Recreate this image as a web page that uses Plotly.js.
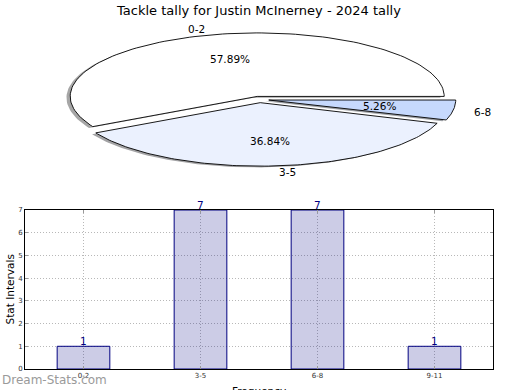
<!DOCTYPE html>
<html>
<head>
<meta charset="utf-8">
<script src="https://cdn.plot.ly/plotly-3.0.1.min.js"></script>
<style>html,body{margin:0;padding:0;background:#fff;}#chart{width:520px;height:390px;}</style>
</head>
<body>
<div id="chart"></div>
<script>
// ---- data ----
const chartTitle = 'Tackle tally for Justin McInerney - 2024 tally';
const pieLabels = ['0-2', '3-5', '6-8'];
const pieValues = [11, 7, 1];
const barCats = ['0-2', '3-5', '6-8', '9-11'];
const barValues = [1, 7, 7, 1];
const yTickVals = [0, 1, 2, 3, 4, 5, 6, 7];
const xAxisTitle = 'Frequency';
const yAxisTitle = 'Stat Intervals';
const watermark = 'Dream-Stats.com';

// ---- styles ----
const pieColors = [[255, 255, 255], [235, 241, 254], [198, 217, 253]];
const explode = 0.05;
const navy = '#000080';
const fontFam = 'DejaVu Sans, Verdana, sans-serif';

const traces = [];
const annotations = [];
const total = pieValues.reduce((a, b) => a + b, 0);

// wedge geometry derived from values
const wedges = [];
let acc = 0;
pieValues.forEach((v, i) => {
  const t1 = 2 * Math.PI * acc / total;
  const t2 = 2 * Math.PI * (acc + v) / total;
  acc += v;
  const tm = (t1 + t2) / 2;
  const ex = explode * Math.cos(tm), ey = explode * Math.sin(tm);
  const xs = [ex], ys = [ey];
  const N = 120;
  for (let k = 0; k <= N; k++) {
    const t = t1 + (t2 - t1) * k / N;
    xs.push(ex + Math.cos(t));
    ys.push(ey + Math.sin(t));
  }
  xs.push(ex); ys.push(ey);
  wedges.push({xs, ys, tm, ex, ey, i, v});
});

// shadows first
wedges.forEach(w => {
  const c = pieColors[w.i];
  traces.push({
    type: 'scatter', mode: 'lines', xaxis: 'x2', yaxis: 'y2',
    x: w.xs.map(x => x - 0.02), y: w.ys.map(y => y - 0.02),
    fill: 'toself',
    fillcolor: `rgba(${Math.round(c[0]*0.3)},${Math.round(c[1]*0.3)},${Math.round(c[2]*0.3)},0.5)`,
    line: {width: 0}, hoverinfo: 'skip'
  });
});
wedges.forEach(w => {
  const c = pieColors[w.i];
  traces.push({
    type: 'scatter', mode: 'lines', xaxis: 'x2', yaxis: 'y2',
    x: w.xs, y: w.ys, fill: 'toself',
    fillcolor: `rgb(${c[0]},${c[1]},${c[2]})`,
    line: {color: '#000000', width: 0.9}, hoverinfo: 'skip'
  });
  const xt = w.ex + 1.1 * Math.cos(w.tm), yt = w.ey + 1.1 * Math.sin(w.tm);
  annotations.push({
    xref: 'x2', yref: 'y2', x: xt, y: yt, text: pieLabels[w.i], showarrow: false,
    xanchor: xt > 0 ? 'left' : 'right', yanchor: 'middle',
    font: {family: fontFam, size: 10.5, color: '#000'}
  });
  const xp = w.ex + 0.6 * Math.cos(w.tm), yp = w.ey + 0.6 * Math.sin(w.tm);
  annotations.push({
    xref: 'x2', yref: 'y2', x: xp, y: yp,
    text: (w.v / total * 100).toFixed(2) + '%', showarrow: false,
    xanchor: 'center', yanchor: 'middle',
    font: {family: fontFam, size: 10.5, color: '#000'}
  });
});

// bars (navy at 20% alpha so the grid shows through, as in the reference)
traces.push({
  type: 'bar', x: barCats, y: barValues, xaxis: 'x', yaxis: 'y',
  width: 0.45,
  marker: {color: 'rgba(0,0,128,0.2)', line: {color: navy, width: 1}},
  hoverinfo: 'skip'
});
barCats.forEach((c, i) => {
  annotations.push({
    xref: 'x', yref: 'y', x: c, y: barValues[i], text: String(barValues[i]),
    showarrow: false, xanchor: 'center', yanchor: 'bottom', yshift: -3,
    font: {family: fontFam, size: 10.5, color: navy}
  });
});

// axis titles, watermark
annotations.push({
  xref: 'paper', yref: 'paper', x: 259 / 520, y: 1 - 383 / 390,
  xanchor: 'center', yanchor: 'top', text: xAxisTitle, showarrow: false,
  font: {family: fontFam, size: 10.5, color: '#000'}
});
annotations.push({
  xref: 'paper', yref: 'paper', x: 9 / 520, y: 1 - 289.5 / 390,
  xanchor: 'center', yanchor: 'middle', text: yAxisTitle, showarrow: false,
  textangle: -90, font: {family: fontFam, size: 10.5, color: '#000'}
});
annotations.push({
  xref: 'paper', yref: 'paper', x: 0, y: 1 - 380 / 390,
  xanchor: 'left', yanchor: 'middle', text: watermark, showarrow: false,
  font: {family: fontFam, size: 12, color: '#9a9a9a'}
});

// pie axes: radius 1 -> 187px horizontally, 63.5px vertically, centre at (259.5, 99.5)
const cx = 259.5, cy = 99.5, ax = 187, by = 63.5;
const pieBottomPx = 195;

const layout = {
  width: 520, height: 390,
  margin: {l: 0, r: 0, t: 0, b: 0},
  paper_bgcolor: '#ffffff', plot_bgcolor: 'rgba(0,0,0,0)',
  showlegend: false,
  font: {family: fontFam, color: '#000'},
  title: {
    text: chartTitle, x: 259 / 520, xanchor: 'center',
    y: 1 - 10 / 390, yanchor: 'middle',
    font: {family: fontFam, size: 13, color: '#000'}
  },
  xaxis: {
    domain: [25 / 520, 493 / 520], anchor: 'y', type: 'category',
    range: [-0.5, 3.5],
    showline: true, mirror: 'ticks', linecolor: '#000', linewidth: 1,
    ticks: 'inside', ticklen: 3, tickcolor: '#999',
    showgrid: true, gridcolor: '#b8b8b8', griddash: '1px,2px', gridwidth: 1,
    tickfont: {family: fontFam, size: 7, color: '#333'},
    fixedrange: true
  },
  yaxis: {
    domain: [1 - 369 / 390, 1 - 210 / 390], anchor: 'x',
    range: [0, 7], tickvals: yTickVals, ticktext: yTickVals.map(String),
    showline: true, mirror: 'ticks', linecolor: '#000', linewidth: 1,
    ticks: 'inside', ticklen: 3, tickcolor: '#999',
    showgrid: true, gridcolor: '#b8b8b8', griddash: '1px,2px', gridwidth: 1,
    zeroline: false,
    tickfont: {family: fontFam, size: 7, color: '#333'},
    fixedrange: true
  },
  xaxis2: {
    domain: [0, 1], anchor: 'y2', visible: false,
    range: [-cx / ax, (520 - cx) / ax], fixedrange: true
  },
  yaxis2: {
    domain: [1 - pieBottomPx / 390, 1], anchor: 'x2', visible: false,
    range: [(cy - pieBottomPx) / by, cy / by], fixedrange: true
  },
  annotations: annotations
};

Plotly.newPlot('chart', traces, layout, {staticPlot: true, displayModeBar: false});
</script>
</body>
</html>
